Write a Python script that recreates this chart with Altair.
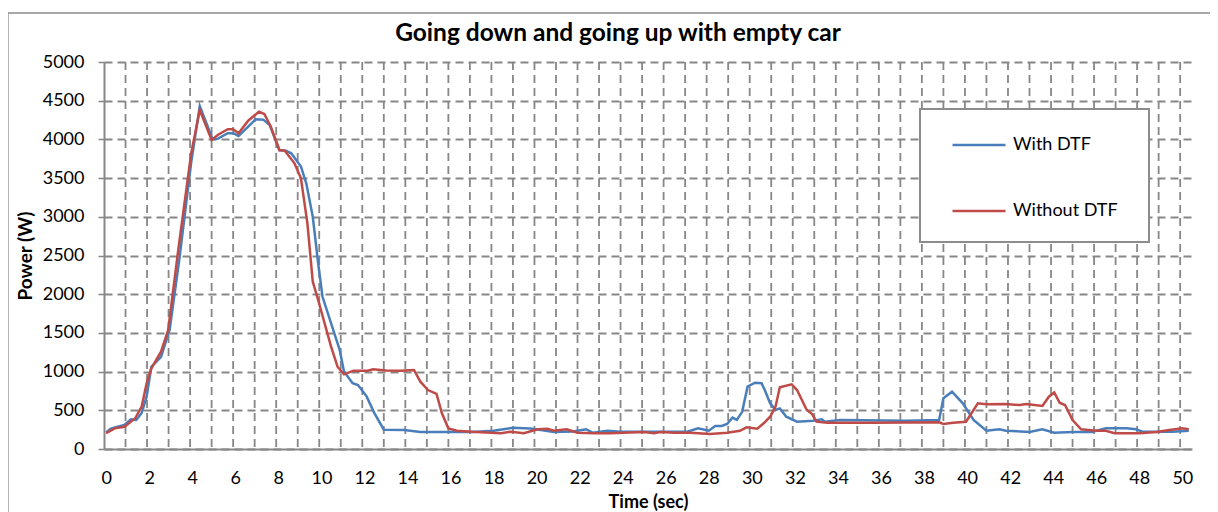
import altair as alt
import pandas as pd

TITLE = "Going down and going up with empty car"
X_TITLE = "Time (sec)"
Y_TITLE = "Power (W)"
SERIES = ["With DTF", "Without DTF"]
COLORS = ["#4A7EBB", "#BE4B48"]
X_TICKS = list(range(0, 51, 2))
Y_TICKS = list(range(0, 5001, 500))
GRID_X = [k - 0.1 for k in range(1, 51)]

with_t = [0.0, 0.2, 0.4, 0.85, 1.15, 1.4, 1.65, 1.88, 2.1, 2.55, 2.95, 3.4, 3.95, 4.35,
          4.95, 5.2, 5.65, 5.9, 6.15, 6.6, 6.95, 7.3, 7.6, 8.05, 8.35, 8.6, 9.05, 9.3,
          9.6, 9.85, 10.05, 10.5, 10.85, 11.05, 11.45, 11.7, 12.1, 12.45, 12.9, 13.85,
          14.6, 16.0, 17.0, 18.0, 18.9, 19.7, 20.2, 20.8, 21.7, 22.3, 22.6, 23.3, 23.9,
          25.7, 27.0, 27.5, 28.0, 28.3, 28.6, 28.85, 29.1, 29.3, 29.55, 29.8, 30.15,
          30.45, 30.6, 30.85, 31.1, 31.3, 31.6, 32.1, 32.85, 33.25, 33.4, 34.1, 37.2,
          38.7, 38.9, 39.3, 39.8, 40.3, 40.9, 41.5, 41.8, 42.9, 43.5, 44.05, 44.9, 45.8,
          46.45, 47.4, 47.85, 48.15, 49.55, 50.3]
with_p = [215, 260, 280, 310, 385, 375, 465, 676, 1060, 1190, 1540, 2450, 3700, 4430,
          4000, 4010, 4080, 4080, 4045, 4165, 4260, 4255, 4185, 3860, 3855, 3820, 3650, 3430,
          3000, 2400, 1970, 1580, 1280, 1000, 850, 827, 680, 470, 250, 245,
          220, 220, 220, 236, 275, 265, 245, 220, 225, 255, 211, 236, 224,
          224, 224, 267, 236, 297, 297, 323, 405, 375, 480, 805, 857,
          849, 762, 590, 505, 525, 417, 353, 366, 384, 353, 375, 366,
          375, 655, 741, 590, 375, 236, 254, 236, 220, 254, 211, 220, 220,
          267, 267, 254, 224, 224, 236]

without_t = [0.0, 0.4, 0.85, 1.35, 1.65, 1.88, 2.1, 2.55, 2.88, 3.35, 3.95, 4.35, 4.9, 5.2,
             5.65, 5.9, 6.15, 6.6, 7.1, 7.35, 7.65, 8.05, 8.3, 8.75, 9.05, 9.35, 9.6, 9.85,
             10.15, 10.45, 10.75, 11.05, 11.5, 12.15, 12.4, 13.0, 13.7, 14.3, 14.6, 14.95,
             15.35, 15.6, 15.9, 16.3, 16.95, 18.35, 18.8, 19.4, 20.05, 20.5, 20.8, 21.4,
             21.9, 22.65, 23.4, 25.0, 25.45, 25.75, 26.4, 27.15, 28.05, 28.85, 29.45, 29.75,
             30.25, 30.55, 30.85, 31.1, 31.3, 31.85, 32.1, 32.55, 32.8, 33.0, 33.5, 35.6,
             38.7, 38.9, 39.35, 39.95, 40.5, 40.9, 41.8, 42.45, 42.75, 43.5, 43.8, 44.05,
             44.3, 44.55, 44.9, 45.3, 46.0, 46.45, 46.85, 48.0, 48.8, 49.4, 50.0, 50.3]
without_p = [205, 267, 288, 397, 547, 849, 1043, 1257, 1537, 2571, 3820, 4380, 3992, 4060,
             4131, 4131, 4079, 4242, 4358, 4328, 4164, 3863, 3854, 3691, 3497, 2916, 2162, 1925,
             1624, 1322, 1063, 965, 1012, 1012, 1030, 1015, 1010, 1021, 870, 762,
             711, 461, 267, 236, 224, 203, 224, 203, 254, 262, 236, 254,
             211, 203, 203, 220, 203, 220, 211, 211, 194, 211, 236, 280,
             262, 332, 417, 547, 797, 836, 762, 504, 452, 353, 340, 340,
             345, 323, 340, 353, 590, 577, 581, 568, 581, 556, 676, 732,
             598, 568, 375, 254, 236, 236, 203, 203, 220, 245, 267, 254]

df = pd.DataFrame({
    "Time": with_t + without_t,
    "Power": with_p + without_p,
    "Series": [SERIES[0]] * len(with_t) + [SERIES[1]] * len(without_t),
})
grid_df = pd.DataFrame({"Time": GRID_X})

FONT = "Lato"
GRAY = "#878787"

x_scale = alt.Scale(domain=[-0.1, 50.45], nice=False, zero=False)
x_axis = alt.Axis(
    values=X_TICKS, grid=False, tickSize=0, labelPadding=20, labelFontSize=18,
    labelFont=FONT, labelColor="black", domainColor=GRAY, domainWidth=2,
    title=X_TITLE, titleFont=FONT, titleFontSize=18, titleFontWeight="bold",
    titleColor="black", titleX=544, titleY=53, titleBaseline="middle",
    labelFlush=False, labelOverlap=False,
)
x_enc = alt.X("Time:Q", scale=x_scale, axis=x_axis)

y_axis = alt.Axis(
    values=Y_TICKS, format="d", grid=True, gridDash=[8, 5], gridColor=GRAY, gridWidth=1.8,
    tickSize=6, tickColor=GRAY, tickWidth=1.5, labelPadding=14, labelFontSize=18,
    labelFont=FONT, labelColor="black", domainColor=GRAY, domainWidth=2,
    title=Y_TITLE, titleFont=FONT, titleFontSize=19, titleFontWeight="bold",
    titleColor="black", titleX=-79, titleY=193.5, titleAngle=270,
    titleBaseline="middle", titleAlign="center", labelOverlap=False,
)

one = pd.DataFrame({"label": [TITLE]})

border = alt.Chart(one).mark_rect(fillOpacity=0, stroke="#8c8c8c", strokeWidth=1.3).encode(
    x=alt.value(-96), x2=alt.value(1140), y=alt.value(-49), y2=alt.value(480)
)

title = alt.Chart(one).mark_text(
    font=FONT, fontSize=24.5, fontWeight="bold", color="black", align="center",
    baseline="alphabetic"
).encode(text="label:N", x=alt.value(514), y=alt.value(-21))

vgrid = alt.Chart(grid_df).mark_rule(
    stroke=GRAY, strokeWidth=1.8, strokeDash=[8, 5]
).encode(x=x_enc)

legend_box = alt.Chart(one).mark_rect(
    fill="white", stroke="#8c8c8c", strokeWidth=2
).encode(x=alt.value(816), x2=alt.value(1045), y=alt.value(47), y2=alt.value(180))

lines = alt.Chart(df).mark_line(strokeWidth=2.5).encode(
    x=x_enc,
    y=alt.Y("Power:Q", scale=alt.Scale(domain=[0, 5000], nice=False), axis=y_axis),
    color=alt.Color(
        "Series:N",
        scale=alt.Scale(domain=SERIES, range=COLORS),
        legend=alt.Legend(
            orient="none", legendX=816, legendY=47, title=None,
            symbolType="stroke", symbolSize=2809, symbolStrokeWidth=2.5,
            symbolOffset=23, labelOffset=6, rowPadding=29, padding=8,
            labelFontSize=18, labelFont=FONT, labelColor="black",
            direction="vertical",
        ),
    ),
    order=alt.Order("Time:Q"),
)

chart = alt.layer(border, title, vgrid, legend_box, lines).properties(
    width=1088, height=387,
    padding={"left": 96, "top": 54, "right": 18, "bottom": 63},
    autosize="none",
    background="white",
).configure_view(stroke=None)

chart.save("out.html", embed_options={"renderer": "svg", "actions": False})
